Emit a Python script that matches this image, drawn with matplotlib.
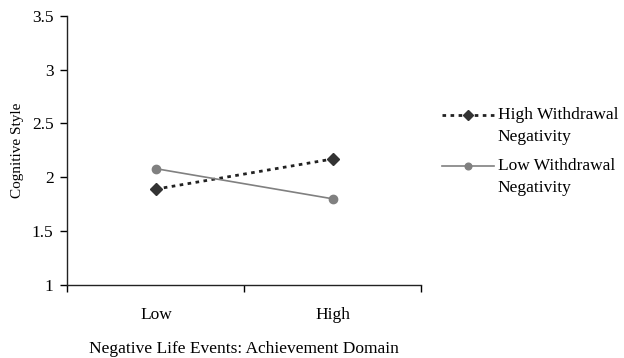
import matplotlib
matplotlib.use("Agg")
import matplotlib.pyplot as plt
from matplotlib.legend_handler import HandlerLine2D
from matplotlib.transforms import Affine2D

categories = ["Low", "High"]
high_wn = [1.89, 2.17]
low_wn = [2.08, 1.80]
series_labels = ["High Withdrawal\nNegativity", "Low Withdrawal\nNegativity"]
yticks = [1, 1.5, 2, 2.5, 3, 3.5]
ytick_labels = ["1", "1.5", "2", "2.5", "3", "3.5"]

plt.rcParams['font.family'] = ['Liberation Serif', 'DejaVu Serif']
FS = 12.5
fig = plt.figure(figsize=(6.24, 3.58), dpi=100)
ax = fig.add_axes([0.108, 0.204, 0.567, 0.752])

x = list(range(len(categories)))
ax.plot(x, high_wn, linestyle=(0, (1.3, 1.6)), color='#222222', lw=2.0,
        marker='D', markersize=6, markerfacecolor='#333333', markeredgecolor='#333333',
        label=series_labels[0])
ax.plot(x, low_wn, linestyle='-', color='#808080', lw=1.2,
        marker='o', markersize=6, markerfacecolor='#808080', markeredgecolor='#808080',
        label=series_labels[1])

ax.set_xlim(-0.5, 1.5)
ax.set_ylim(1, 3.5)
ax.set_yticks(yticks)
ax.set_yticklabels(ytick_labels, fontsize=FS)
ax.set_xticks([-0.5, 0.5, 1.5])
ax.set_xticklabels([])
ax.set_xticks(x, minor=True)
ax.set_xticklabels(categories, minor=True, fontsize=FS)
ax.tick_params(axis='x', which='minor', length=0, pad=16)
ax.tick_params(axis='x', which='major', direction='out', length=5, width=1)
ax.tick_params(axis='y', direction='out', length=5, width=1, pad=5)
for s in ['top', 'right']:
    ax.spines[s].set_visible(False)
for s in ['left', 'bottom']:
    ax.spines[s].set_linewidth(1)
    ax.spines[s].set_color('#222222')

ax.set_ylabel("Cognitive Style", fontsize=11, labelpad=6)
ax.set_xlabel("Negative Life Events: Achievement Domain", fontsize=FS, labelpad=12.5)


class TopHandler(HandlerLine2D):
    def create_artists(self, legend, orig_handle, xdescent, ydescent, width,
                       height, fontsize, trans):
        arts = super().create_artists(legend, orig_handle, xdescent, ydescent,
                                      width, height, fontsize, trans)
        for a in arts:
            a.set_transform(Affine2D().translate(0, 0.65 * fontsize) + trans)
        return arts


h, l = ax.get_legend_handles_labels()
leg = ax.legend(h, l, loc='center left', bbox_to_anchor=(1.015, 0.494), frameon=False,
                fontsize=FS, handlelength=3.0, handletextpad=0.2, labelspacing=0.75,
                markerscale=0.8, handler_map={type(h[0]): TopHandler()})
for t in leg.get_texts():
    t.set_linespacing(1.5)

fig.savefig("out.png", dpi=100)
